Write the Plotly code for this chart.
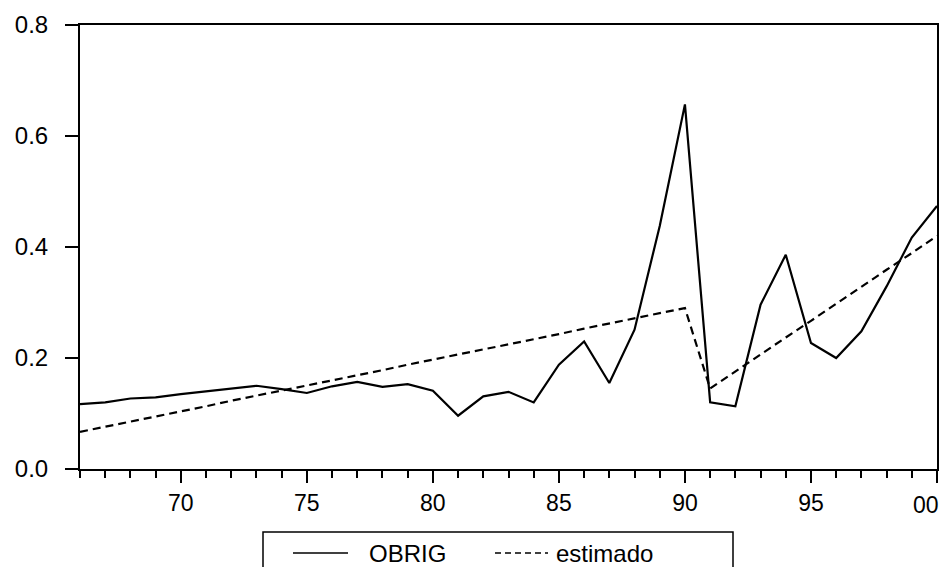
import plotly.graph_objects as go

years = list(range(1966, 2001))
obrig = [0.117, 0.120, 0.127, 0.129, 0.135, 0.140, 0.144, 0.150, 0.144, 0.137,
         0.149, 0.157, 0.148, 0.153, 0.141, 0.096, 0.131, 0.139, 0.120, 0.188,
         0.230, 0.155, 0.251, 0.438, 0.657, 0.120, 0.113, 0.296, 0.386, 0.227,
         0.200, 0.248, 0.329, 0.417, 0.474]
estimado = [0.067, 0.076, 0.086, 0.095, 0.104, 0.113, 0.123, 0.132, 0.141, 0.150,
            0.160, 0.169, 0.178, 0.188, 0.197, 0.206, 0.215, 0.225, 0.234, 0.243,
            0.253, 0.262, 0.271, 0.280, 0.290, 0.145, 0.176, 0.206, 0.237, 0.267,
            0.298, 0.328, 0.359, 0.389, 0.420]
x_tickvals = [1970, 1975, 1980, 1985, 1990, 1995, 2000]
x_ticktext = ["70", "75", "80", "85", "90", "95", "00"]
y_tickvals = [0.0, 0.2, 0.4, 0.6, 0.8]
y_ticktext = ["0.0", "0.2", "0.4", "0.6", "0.8"]
series_names = ["OBRIG", "estimado"]

W, H = 945, 567
L, R, T, B = 80, 937, 25, 469
FONT = "Liberation Sans, Arial, Helvetica, sans-serif"
DASH = "8px,5px"
FS = 23


def px(xp):
    return (xp - L) / (R - L)


def py(yp):
    return (B - yp) / (B - T)


fig = go.Figure()
fig.add_trace(go.Scatter(x=years, y=obrig, mode="lines", name=series_names[0],
                         line=dict(color="black", width=2.2), showlegend=False,
                         cliponaxis=False))
fig.add_trace(go.Scatter(x=years, y=estimado, mode="lines", name=series_names[1],
                         line=dict(color="black", width=2.2, dash=DASH), showlegend=False,
                         cliponaxis=False))

# manual legend box
shapes = [
    dict(type="rect", xref="paper", yref="paper", x0=px(263), x1=px(733),
         y0=py(585), y1=py(532), line=dict(color="black", width=1.5), fillcolor="white"),
    dict(type="line", xref="paper", yref="paper", x0=px(293), x1=px(348),
         y0=py(553), y1=py(553), line=dict(color="black", width=1.5)),
    dict(type="line", xref="paper", yref="paper", x0=px(495), x1=px(548),
         y0=py(553), y1=py(553), line=dict(color="black", width=1.5, dash="6px,4px")),
]
annotations = [
    dict(text=series_names[0], xref="paper", yref="paper", x=px(367), y=py(553),
         xanchor="left", yanchor="middle", showarrow=False,
         font=dict(family=FONT, size=FS + 1, color="black")),
    dict(text=series_names[1], xref="paper", yref="paper", x=px(554), y=py(553),
         xanchor="left", yanchor="middle", showarrow=False,
         font=dict(family=FONT, size=FS + 1, color="black")),
    # last x tick label, right-aligned at the plot edge so it stays inside the page
    dict(text=x_ticktext[-1], xref="x", yref="paper", x=x_tickvals[-1], y=py(505),
         xanchor="right", yanchor="middle", xshift=4, showarrow=False,
         font=dict(family=FONT, size=FS, color="black")),
]

fig.update_layout(
    width=W, height=H,
    margin=dict(l=L, r=W - R, t=T, b=H - B, pad=0, autoexpand=False),
    paper_bgcolor="white", plot_bgcolor="white",
    font=dict(family=FONT, size=FS, color="black"),
    shapes=shapes, annotations=annotations,
    showlegend=False,
)
fig.update_xaxes(
    range=[1966, 2000], showgrid=False, zeroline=False, automargin=False,
    showline=True, linecolor="black", linewidth=2, mirror=True,
    tickmode="array", tickvals=x_tickvals, ticktext=x_ticktext[:-1] + [""],
    ticks="outside", ticklen=12, tickwidth=2, tickcolor="black",
    ticklabeloverflow="allow",
    tickfont=dict(family=FONT, size=FS, color="black"),
    minor=dict(tick0=1966, dtick=1, ticks="outside", ticklen=7, tickwidth=2,
               tickcolor="black", showgrid=False),
)
fig.update_yaxes(
    range=[0, 0.8], showgrid=False, zeroline=False, automargin=False,
    showline=True, linecolor="black", linewidth=2, mirror=True,
    tickmode="array", tickvals=y_tickvals, ticktext=y_ticktext,
    ticks="outside", ticklen=13, tickwidth=2, tickcolor="black",
    ticklabelstandoff=12, ticklabeloverflow="allow",
    tickfont=dict(family=FONT, size=FS + 1, color="black"),
)

fig.write_html("out.html", config={"displayModeBar": False},
               post_script="document.body.style.margin='0';document.body.style.padding='0';")
